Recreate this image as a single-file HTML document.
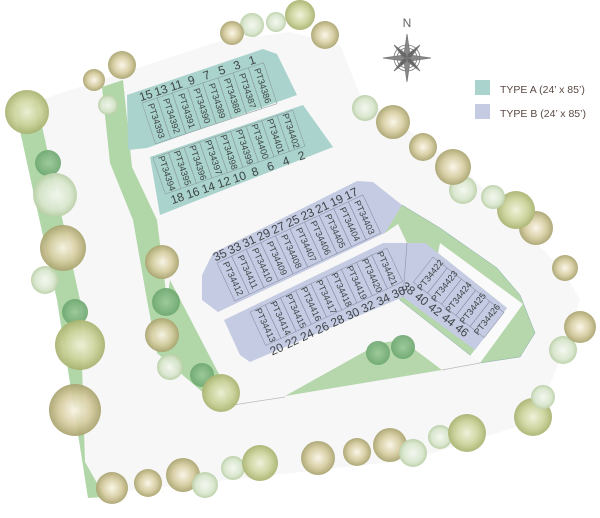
<!DOCTYPE html>
<html><head><meta charset="utf-8"><style>
html,body{margin:0;padding:0;background:#fff;}
svg{display:block;font-family:"Liberation Sans",sans-serif;}
.c{fill:none;stroke:#8d9ea0;stroke-width:0.6}
.cb{fill:none;stroke:#8e93ab;stroke-width:0.6}
.pt{font-size:9px;fill:#3e4446;text-anchor:middle;dominant-baseline:central}
.n{font-size:12px;fill:#3e4446;text-anchor:middle}
</style></head><body>
<svg width="600" height="518" viewBox="0 0 600 518" xmlns="http://www.w3.org/2000/svg">
<defs>
<radialGradient id="tO"><stop offset="0" stop-color="#fbf6e8"/><stop offset="0.6" stop-color="#d6cc9f"/><stop offset="1" stop-color="#a9a36e"/></radialGradient>
<radialGradient id="tY"><stop offset="0" stop-color="#eff2d8"/><stop offset="0.6" stop-color="#ccd39a"/><stop offset="1" stop-color="#a8b26e"/></radialGradient>
<radialGradient id="tP"><stop offset="0" stop-color="#f4f8f0"/><stop offset="0.7" stop-color="#d8e6cc"/><stop offset="1" stop-color="#b9cfa6"/></radialGradient>
<radialGradient id="tG"><stop offset="0" stop-color="#9cc99a"/><stop offset="1" stop-color="#6ea870"/></radialGradient>
</defs>
<polygon points="40,100 217,42 290,32 340,45 360,95 470,175 563,270 580,300 557,367 540,410 513,428 410,460 100,494 88,498" fill="#f7f7f7"/>
<polygon points="15,108 37,103 80,300 85,462 105,497 88,498 57,300" fill="#a9d3a0" opacity="0.9"/>
<polygon points="102,87 123,80 132,167 157,220 167,300 170,280 235,405 220,407 157,353 147,300 133,220 110,163" fill="#a9d3a0" opacity="0.9"/>
<line x1="233" y1="405" x2="285" y2="397" stroke="#bbb" stroke-width="0.8"/>
<line x1="442" y1="370" x2="480" y2="363" stroke="#bbb" stroke-width="0.8"/>
<polygon points="285,396 380,343 402,340 442,370" fill="#b5d7ab"/>
<polygon points="385,228 402,205 440,228 497,268 520,295 535,333 520,357 480,363 400,300" fill="#b5d7ab" stroke="#8aa" stroke-width="0.5"/>
<polygon points="385,233 398,224 407,243 383,243" fill="#f7f7f7"/>
<polygon points="440,243 523,304 480,363 470,356 507,308 438,253" fill="#fafafa"/>
<polygon points="127,95 263,49 277,54 297,95 147,148 128,150" fill="#a9d3cc"/>
<polygon points="150,157 303,105 333,147 160,215" fill="#a9d3cc"/>
<polygon points="213,253 357,181 373,182 402,205 385,233 218,312 202,300 202,275" fill="#c5cbe3"/>
<polygon points="224,320 383,243 407,243 403,297 250,362 240,355" fill="#c5cbe3"/>
<polygon points="407,243 425,243 438,253 507,308 475,350 403,297" fill="#c5cbe3"/>
<line x1="407" y1="243" x2="403" y2="297" stroke="#8e93ab" stroke-width="0.6"/>

<g transform="translate(142,103) rotate(-18.3)">
<g class="c"><rect x="0" y="0" width="16" height="43"/><rect x="16" y="0" width="16" height="43"/><rect x="32" y="0" width="16" height="43"/><rect x="48" y="0" width="16" height="43"/><rect x="64" y="0" width="16" height="43"/><rect x="80" y="0" width="16" height="43"/><rect x="96" y="0" width="16" height="43"/><rect x="112" y="0" width="16" height="43"/></g>
<text class="n" x="6" y="-2">15</text><text class="n" x="22" y="-2">13</text><text class="n" x="38" y="-2">11</text><text class="n" x="54" y="-2">9</text><text class="n" x="70" y="-2">7</text><text class="n" x="86" y="-2">5</text><text class="n" x="102" y="-2">3</text><text class="n" x="118" y="-2">1</text>
<text class="pt" transform="translate(8,21.5) rotate(90)">PT34393</text>
<text class="pt" transform="translate(24,21.5) rotate(90)">PT34392</text>
<text class="pt" transform="translate(40,21.5) rotate(90)">PT34391</text>
<text class="pt" transform="translate(56,21.5) rotate(90)">PT34390</text>
<text class="pt" transform="translate(72,21.5) rotate(90)">PT34389</text>
<text class="pt" transform="translate(88,21.5) rotate(90)">PT34388</text>
<text class="pt" transform="translate(104,21.5) rotate(90)">PT34387</text>
<text class="pt" transform="translate(120,21.5) rotate(90)">PT34386</text>
</g>
<g transform="translate(153,158) rotate(-18.9)">
<g class="c"><rect x="0" y="0" width="16.4" height="38"/><rect x="16.4" y="0" width="16.4" height="38"/><rect x="32.8" y="0" width="16.4" height="38"/><rect x="49.2" y="0" width="16.4" height="38"/><rect x="65.6" y="0" width="16.4" height="38"/><rect x="82" y="0" width="16.4" height="38"/><rect x="98.4" y="0" width="16.4" height="38"/><rect x="114.8" y="0" width="16.4" height="38"/><rect x="131.2" y="0" width="16.4" height="38"/></g>
<text class="n" x="10" y="50">18</text><text class="n" x="26.4" y="50">16</text><text class="n" x="42.8" y="50">14</text><text class="n" x="59.2" y="50">12</text><text class="n" x="75.6" y="50">10</text><text class="n" x="92" y="50">8</text><text class="n" x="108.4" y="50">6</text><text class="n" x="124.8" y="50">4</text><text class="n" x="141.2" y="50">2</text>
<text class="pt" transform="translate(8.2,19) rotate(90)">PT34394</text>
<text class="pt" transform="translate(24.6,19) rotate(90)">PT34395</text>
<text class="pt" transform="translate(41,19) rotate(90)">PT34396</text>
<text class="pt" transform="translate(57.4,19) rotate(90)">PT34397</text>
<text class="pt" transform="translate(73.8,19) rotate(90)">PT34398</text>
<text class="pt" transform="translate(90.2,19) rotate(90)">PT34399</text>
<text class="pt" transform="translate(106.6,19) rotate(90)">PT34400</text>
<text class="pt" transform="translate(123,19) rotate(90)">PT34401</text>
<text class="pt" transform="translate(139.4,19) rotate(90)">PT34402</text>
</g>
<g transform="translate(217,263) rotate(-25)">
<g class="cb"><rect x="0" y="0" width="16.1" height="42"/><rect x="16.1" y="0" width="16.1" height="42"/><rect x="32.2" y="0" width="16.1" height="42"/><rect x="48.3" y="0" width="16.1" height="42"/><rect x="64.4" y="0" width="16.1" height="42"/><rect x="80.5" y="0" width="16.1" height="42"/><rect x="96.6" y="0" width="16.1" height="42"/><rect x="112.7" y="0" width="16.1" height="42"/><rect x="128.8" y="0" width="16.1" height="42"/><rect x="144.9" y="0" width="16.1" height="42"/></g>
<text class="n" x="6" y="-2">35</text><text class="n" x="22.1" y="-2">33</text><text class="n" x="38.2" y="-2">31</text><text class="n" x="54.3" y="-2">29</text><text class="n" x="70.4" y="-2">27</text><text class="n" x="86.5" y="-2">25</text><text class="n" x="102.6" y="-2">23</text><text class="n" x="118.7" y="-2">21</text><text class="n" x="134.8" y="-2">19</text><text class="n" x="150.9" y="-2">17</text>
<text class="pt" transform="translate(8,21) rotate(90)">PT34412</text>
<text class="pt" transform="translate(24.1,21) rotate(90)">PT34411</text>
<text class="pt" transform="translate(40.2,21) rotate(90)">PT34410</text>
<text class="pt" transform="translate(56.3,21) rotate(90)">PT34409</text>
<text class="pt" transform="translate(72.4,21) rotate(90)">PT34408</text>
<text class="pt" transform="translate(88.5,21) rotate(90)">PT34407</text>
<text class="pt" transform="translate(104.6,21) rotate(90)">PT34406</text>
<text class="pt" transform="translate(120.7,21) rotate(90)">PT34405</text>
<text class="pt" transform="translate(136.8,21) rotate(90)">PT34404</text>
<text class="pt" transform="translate(152.9,21) rotate(90)">PT34403</text>
</g>
<g transform="translate(250,312) rotate(-25)">
<g class="cb"><rect x="0" y="0" width="16.8" height="37"/><rect x="16.8" y="0" width="16.8" height="37"/><rect x="33.6" y="0" width="16.8" height="37"/><rect x="50.4" y="0" width="16.8" height="37"/><rect x="67.2" y="0" width="16.8" height="37"/><rect x="84" y="0" width="16.8" height="37"/><rect x="100.8" y="0" width="16.8" height="37"/><rect x="117.6" y="0" width="16.8" height="37"/><rect x="134.4" y="0" width="16.8" height="37"/></g>
<text class="n" x="8.4" y="49">20</text><text class="n" x="25.2" y="49">22</text><text class="n" x="42" y="49">24</text><text class="n" x="58.8" y="49">26</text><text class="n" x="75.6" y="49">28</text><text class="n" x="92.4" y="49">30</text><text class="n" x="109.2" y="49">32</text><text class="n" x="126" y="49">34</text><text class="n" x="142.8" y="49">36</text>
<text class="pt" transform="translate(8.4,18.5) rotate(90)">PT34413</text>
<text class="pt" transform="translate(25.2,18.5) rotate(90)">PT34414</text>
<text class="pt" transform="translate(42,18.5) rotate(90)">PT34415</text>
<text class="pt" transform="translate(58.8,18.5) rotate(90)">PT34416</text>
<text class="pt" transform="translate(75.6,18.5) rotate(90)">PT34417</text>
<text class="pt" transform="translate(92.4,18.5) rotate(90)">PT34418</text>
<text class="pt" transform="translate(109.2,18.5) rotate(90)">PT34419</text>
<text class="pt" transform="translate(126,18.5) rotate(90)">PT34420</text>
<text class="pt" transform="translate(142.8,18.5) rotate(90)">PT34421</text>
</g>
<g transform="translate(433,257) rotate(38)">
<g class="cb"><rect x="0" y="0" width="18" height="32"/><rect x="18" y="0" width="18" height="32"/><rect x="36" y="0" width="18" height="32"/><rect x="54" y="0" width="18" height="32"/><rect x="72" y="0" width="18" height="32"/></g>
<text class="n" x="0" y="44">38</text><text class="n" x="17" y="44">40</text><text class="n" x="34" y="44">42</text><text class="n" x="51" y="44">44</text><text class="n" x="68" y="44">46</text>
<text class="pt" transform="translate(9,16) rotate(-90)">PT34422</text>
<text class="pt" transform="translate(27,16) rotate(-90)">PT34423</text>
<text class="pt" transform="translate(45,16) rotate(-90)">PT34424</text>
<text class="pt" transform="translate(63,16) rotate(-90)">PT34425</text>
<text class="pt" transform="translate(81,16) rotate(-90)">PT34426</text>
</g>

<g opacity="0.92">
<circle cx="300" cy="15" r="15" fill="url(#tY)"/><circle cx="325" cy="35" r="14" fill="url(#tO)"/><circle cx="276" cy="22" r="10" fill="url(#tP)"/><circle cx="252" cy="25" r="12" fill="url(#tP)"/><circle cx="232" cy="33" r="12" fill="url(#tO)"/>
<circle cx="122" cy="65" r="14" fill="url(#tO)"/><circle cx="94" cy="80" r="11" fill="url(#tO)"/><circle cx="108" cy="105" r="10" fill="url(#tP)"/>
<circle cx="27" cy="112" r="22" fill="url(#tY)"/><circle cx="48" cy="163" r="13" fill="url(#tG)"/><circle cx="55" cy="195" r="22" fill="url(#tP)"/><circle cx="63" cy="248" r="23" fill="url(#tO)"/><circle cx="45" cy="280" r="14" fill="url(#tP)"/>
<circle cx="75" cy="312" r="13" fill="url(#tG)"/><circle cx="80" cy="345" r="25" fill="url(#tY)"/><circle cx="75" cy="410" r="26" fill="url(#tO)"/>
<circle cx="162" cy="262" r="17" fill="url(#tO)"/><circle cx="166" cy="302" r="14" fill="url(#tG)"/><circle cx="162" cy="335" r="17" fill="url(#tO)"/><circle cx="170" cy="367" r="13" fill="url(#tP)"/><circle cx="202" cy="375" r="12" fill="url(#tG)"/><circle cx="221" cy="393" r="19" fill="url(#tY)"/>
<circle cx="112" cy="488" r="16" fill="url(#tO)"/><circle cx="148" cy="483" r="14" fill="url(#tO)"/><circle cx="183" cy="475" r="17" fill="url(#tO)"/><circle cx="205" cy="485" r="13" fill="url(#tP)"/><circle cx="233" cy="468" r="12" fill="url(#tP)"/><circle cx="260" cy="463" r="18" fill="url(#tY)"/><circle cx="318" cy="458" r="17" fill="url(#tO)"/><circle cx="357" cy="452" r="14" fill="url(#tO)"/><circle cx="390" cy="445" r="17" fill="url(#tO)"/>
<circle cx="413" cy="453" r="14" fill="url(#tP)"/><circle cx="440" cy="437" r="12" fill="url(#tP)"/><circle cx="467" cy="433" r="19" fill="url(#tY)"/><circle cx="533" cy="417" r="19" fill="url(#tY)"/><circle cx="543" cy="397" r="12" fill="url(#tP)"/><circle cx="563" cy="350" r="14" fill="url(#tP)"/><circle cx="580" cy="327" r="16" fill="url(#tO)"/>
<circle cx="565" cy="268" r="13" fill="url(#tO)"/><circle cx="536" cy="228" r="17" fill="url(#tO)"/><circle cx="516" cy="210" r="19" fill="url(#tY)"/><circle cx="493" cy="197" r="12" fill="url(#tP)"/><circle cx="463" cy="190" r="14" fill="url(#tP)"/><circle cx="453" cy="167" r="18" fill="url(#tO)"/><circle cx="423" cy="147" r="14" fill="url(#tO)"/><circle cx="393" cy="122" r="17" fill="url(#tO)"/><circle cx="365" cy="108" r="13" fill="url(#tP)"/>
<circle cx="378" cy="353" r="12" fill="url(#tG)"/><circle cx="403" cy="347" r="12" fill="url(#tG)"/>
</g>
<g transform="translate(407,58)" stroke="#777" fill="none" stroke-width="0.8">
<circle r="13"/><circle r="10"/>
<polygon points="0,-24 3,-3 0,0 -3,-3" fill="#888"/><polygon points="0,24 3,3 0,0 -3,3" fill="#888"/>
<polygon points="-24,0 -3,-3 0,0 -3,3" fill="#888"/><polygon points="24,0 3,-3 0,0 3,3" fill="#888"/>
<polygon points="-13,-13 -1,-4 0,0 -4,-1" fill="#666"/><polygon points="13,-13 1,-4 0,0 4,-1" fill="#666"/>
<polygon points="-13,13 -1,4 0,0 -4,1" fill="#666"/><polygon points="13,13 1,4 0,0 4,1" fill="#666"/>
</g>
<text x="407" y="27" font-size="12" fill="#666" text-anchor="middle">N</text>
<rect x="475" y="80" width="15" height="15" fill="#a9d3cc"/>
<rect x="475" y="104" width="15" height="15" fill="#c5cbe3"/>
<text x="500" y="93" font-size="10.5" fill="#5a4a44">TYPE A (24’ x 85’)</text>
<text x="500" y="117" font-size="10.5" fill="#5a4a44">TYPE B (24’ x 85’)</text>
</svg>
</body></html>
